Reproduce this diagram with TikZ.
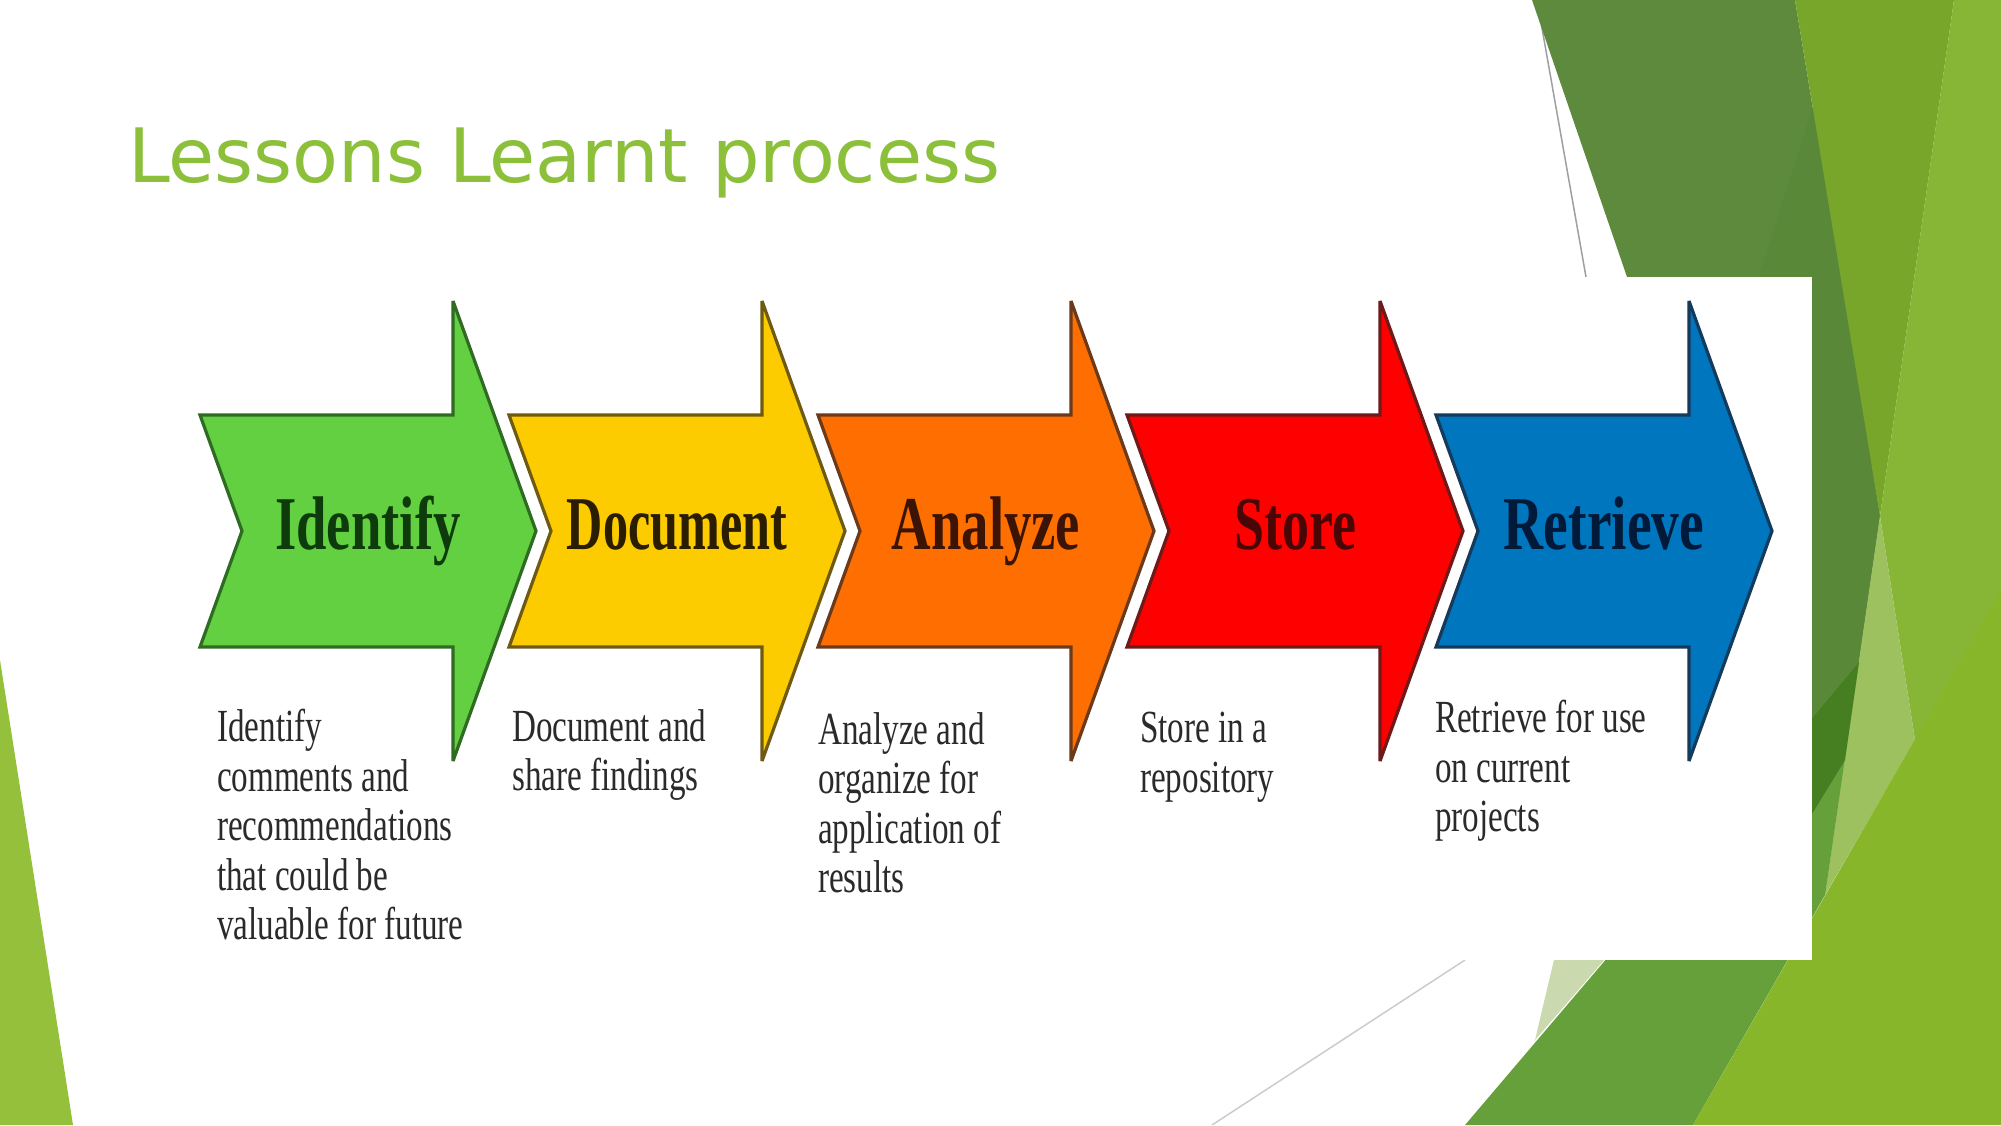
\documentclass[tikz,border=0pt]{standalone}
\usepackage{fontspec}
\setmainfont{Liberation Serif}
\newfontfamily\titlefont{DejaVu Sans}
\definecolor{titlegreen}{HTML}{8CC03A}
\definecolor{bgD}{HTML}{5E8A3E}
\definecolor{bgW}{HTML}{5A8839}
\definecolor{bgMt}{HTML}{77A62B}
\definecolor{bgR}{HTML}{87B535}
\definecolor{bgL}{HTML}{9DC15E}
\definecolor{bgM}{HTML}{66A03B}
\definecolor{bgX}{HTML}{467F22}
\definecolor{bgB}{HTML}{88B62B}
\definecolor{bgP}{HTML}{CBDAAE}
\definecolor{bgT}{HTML}{95C03B}
\definecolor{fA}{HTML}{62D040}
\definecolor{dA}{HTML}{2F6B22}
\definecolor{tA}{HTML}{0E3B0B}
\definecolor{fB}{HTML}{FCCC00}
\definecolor{dB}{HTML}{6E5A13}
\definecolor{tB}{HTML}{2B1D00}
\definecolor{fC}{HTML}{FF6E00}
\definecolor{dC}{HTML}{6B3A1A}
\definecolor{tC}{HTML}{3B1405}
\definecolor{fD}{HTML}{FF0000}
\definecolor{dD}{HTML}{6E1A1A}
\definecolor{tD}{HTML}{4A0505}
\definecolor{fE}{HTML}{0076BE}
\definecolor{dE}{HTML}{143A5C}
\definecolor{tE}{HTML}{021A3A}
\definecolor{desctext}{HTML}{2A2A2A}
\begin{document}
\begin{tikzpicture}[x=1pt,y=-1pt,
  arrowshape/.style={line width=3.2pt, line join=miter, miter limit=3},
  lbl/.style={anchor=base, inner sep=0, font=\fontsize{76}{80}\selectfont\bfseries},
  desc/.style={anchor=north west, inner sep=0, align=left, text=desctext,
    font=\fontsize{46}{49.5}\selectfont, xscale=0.72},
  thinline/.style={line width=1.5pt}
]
\useasboundingbox (0,0) rectangle (2001,1125);
\fill[white] (0,0) rectangle (2001,1125);
% background facets
\fill[bgT] (0,660) -- (73,1125) -- (0,1125) -- cycle;
\draw[thinline, color=gray!75] (1537,0) -- (1586,277);
\draw[thinline, color=gray!40] (1465,960) -- (1212,1125);
\fill[bgD] (1532,0) -- (1795,0) -- (1880,516) -- (1825,895) -- (1700,895) -- (1627,277) -- cycle;
\fill[bgW] (1815,100) -- (1700,460) -- (1790,744) -- (1859,662) -- (1880,516) -- cycle;
\fill[bgMt] (1795,0) -- (1954,0) -- (1880,516) -- cycle;
\fill[bgR] (1954,0) -- (2001,0) -- (2001,800) -- (1915,740) -- (1880,516) -- cycle;
\fill[bgL] (1880,516) -- (1915,740) -- (1825,895) -- cycle;
\fill[bgM] (1465,1125) -- (1859,662) -- (1825,895) -- (1693,1125) -- cycle;
\fill[bgX] (1790,744) -- (1859,662) -- (1845,760) -- (1790,850) -- cycle;
\fill[bgB] (2001,590) -- (2001,1125) -- (1693,1125) -- cycle;
\fill[bgP] (1561,930) -- (1630,930) -- (1535,1040) -- cycle;
% picture panel
\fill[white] (185,277) rectangle (1812,960);
% title
\node[anchor=base west, inner sep=0, text=titlegreen,
  font=\titlefont\fontsize{75}{80}\selectfont] (title) at (128,182) {Lessons Learnt process};
% arrows
\foreach \i/\f/\d in {0/fA/dA, 1/fB/dB, 2/fC/dC, 3/fD/dD, 4/fE/dE}{
  \pgfmathsetmacro\L{200+309*\i}
  \filldraw[arrowshape, fill=\f, draw=\d]
    (\L,415) -- ({\L+253},415) -- ({\L+253},301) -- ({\L+336},531)
    -- ({\L+253},761) -- ({\L+253},647) -- (\L,647) -- ({\L+42},531) -- cycle;
}
% labels
\node[lbl, text=tA, xscale=0.72] (l1) at (368,549) {Identify};
\node[lbl, text=tB, xscale=0.66] (l2) at (677,549) {Document};
\node[lbl, text=tC, xscale=0.72] (l3) at (986,549) {Analyze};
\node[lbl, text=tD, xscale=0.71] (l4) at (1295,549) {Store};
\node[lbl, text=tE, xscale=0.73] (l5) at (1604,549) {Retrieve};
% descriptions
\node[desc] (d1) at (217,709) {Identify\\comments and\\recommendations\\that could be\\valuable for future};
\node[desc] (d2) at (512,709) {Document and\\share findings};
\node[desc] (d3) at (818,712) {Analyze and\\organize for\\application of\\results};
\node[desc] (d4) at (1140,712) {Store in a\\repository};
\node[desc] (d5) at (1435,700) {Retrieve for use\\on current\\projects};
\end{tikzpicture}
\end{document}
